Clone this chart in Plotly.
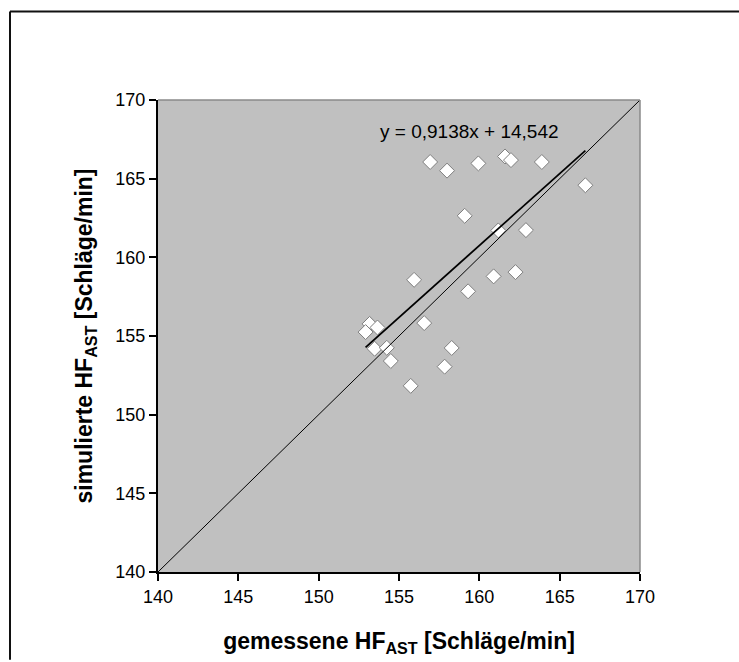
import plotly.graph_objects as go

# measured vs simulated heart rate (beats/min)
gemessen = [156.94, 157.99, 159.94, 161.60, 161.97, 163.89, 166.60, 159.09,
            161.18, 162.90, 155.94, 160.89, 162.25, 159.30, 153.17, 152.92,
            153.66, 156.57, 153.48, 154.24, 154.49, 158.28, 157.84, 155.73]
simuliert = [166.06, 165.51, 165.97, 166.41, 166.18, 166.06, 164.58, 162.64,
             161.71, 161.73, 158.57, 158.79, 159.06, 157.84, 155.77, 155.25,
             155.54, 155.82, 154.19, 154.25, 153.41, 154.24, 153.05, 151.83]

slope = 0.9138
intercept = 14.542
axis_range = [140, 170]
tick_vals = [140, 145, 150, 155, 160, 165, 170]
eq_text = "y = 0,9138x + 14,542"

FONT = "Liberation Sans, Arial, sans-serif"

fig = go.Figure()

fig.add_trace(go.Scatter(
    x=gemessen, y=simuliert, mode="markers",
    marker=dict(symbol="diamond", size=11.5, color="white",
                line=dict(color="#7f7f7f", width=1)),
    showlegend=False, hoverinfo="x+y"))

# linear trendline over data range
x_lo, x_hi = min(gemessen), max(gemessen)
fig.add_trace(go.Scatter(
    x=[x_lo, x_hi], y=[slope * x_lo + intercept, slope * x_hi + intercept],
    mode="lines", line=dict(color="black", width=1.8),
    showlegend=False, hoverinfo="skip"))

# identity line
fig.add_trace(go.Scatter(
    x=axis_range, y=axis_range, mode="lines",
    line=dict(color="black", width=1), showlegend=False, hoverinfo="skip"))

W, H = 739, 662
L, R, T, B = 158, 739 - 640, 100, 662 - 574
pw, ph = W - L - R, H - T - B

def px2paper_x(px):
    return (px - L) / pw

def px2paper_y(py):
    return (H - B - py) / ph

shapes = [
    # gray top/right edges of plot area
    dict(type="line", xref="paper", yref="paper", x0=0, x1=1, y0=1, y1=1,
         line=dict(color="#8a8a8a", width=1.5)),
    dict(type="line", xref="paper", yref="paper", x0=1, x1=1, y0=0, y1=1,
         line=dict(color="#8a8a8a", width=1.5)),
    # outer chart frame: only top and left edges lie inside the picture
    dict(type="line", xref="paper", yref="paper",
         x0=px2paper_x(10), x1=px2paper_x(739), y0=px2paper_y(11), y1=px2paper_y(11),
         line=dict(color="#111111", width=2), layer="below"),
    dict(type="line", xref="paper", yref="paper",
         x0=px2paper_x(10), x1=px2paper_x(10), y0=px2paper_y(11), y1=px2paper_y(662),
         line=dict(color="#111111", width=2), layer="below"),
]

fig.update_layout(
    width=W, height=H,
    margin=dict(l=L, r=R, t=T, b=B, pad=0),
    paper_bgcolor="white", plot_bgcolor="#c0c0c0",
    font=dict(family=FONT, color="black", size=18),
    shapes=shapes,
    annotations=[dict(x=159.4, y=168.0, xref="x", yref="y", text=eq_text,
                      showarrow=False, font=dict(size=19, family=FONT))],
    xaxis=dict(range=axis_range, tickvals=tick_vals, showgrid=False, zeroline=False,
               showline=True, linecolor="black", linewidth=2,
               ticks="outside", ticklen=7, tickwidth=2, tickcolor="black",
               tickfont=dict(size=18, family=FONT),
               title=dict(text="<b>gemessene HF<sub>AST</sub> [Schläge/min]</b>",
                          font=dict(size=23, family=FONT), standoff=27)),
    yaxis=dict(range=axis_range, tickvals=tick_vals, showgrid=False, zeroline=False,
               showline=True, linecolor="black", linewidth=2,
               ticks="outside", ticklen=7, tickwidth=2, tickcolor="black",
               tickfont=dict(size=18, family=FONT),
               title=dict(text="<b>simulierte HF<sub>AST</sub> [Schläge/min]</b>",
                          font=dict(size=23, family=FONT), standoff=16)),
)

fig.write_html("out.html", config={"displayModeBar": False},
               post_script="document.body.style.margin='0';")
